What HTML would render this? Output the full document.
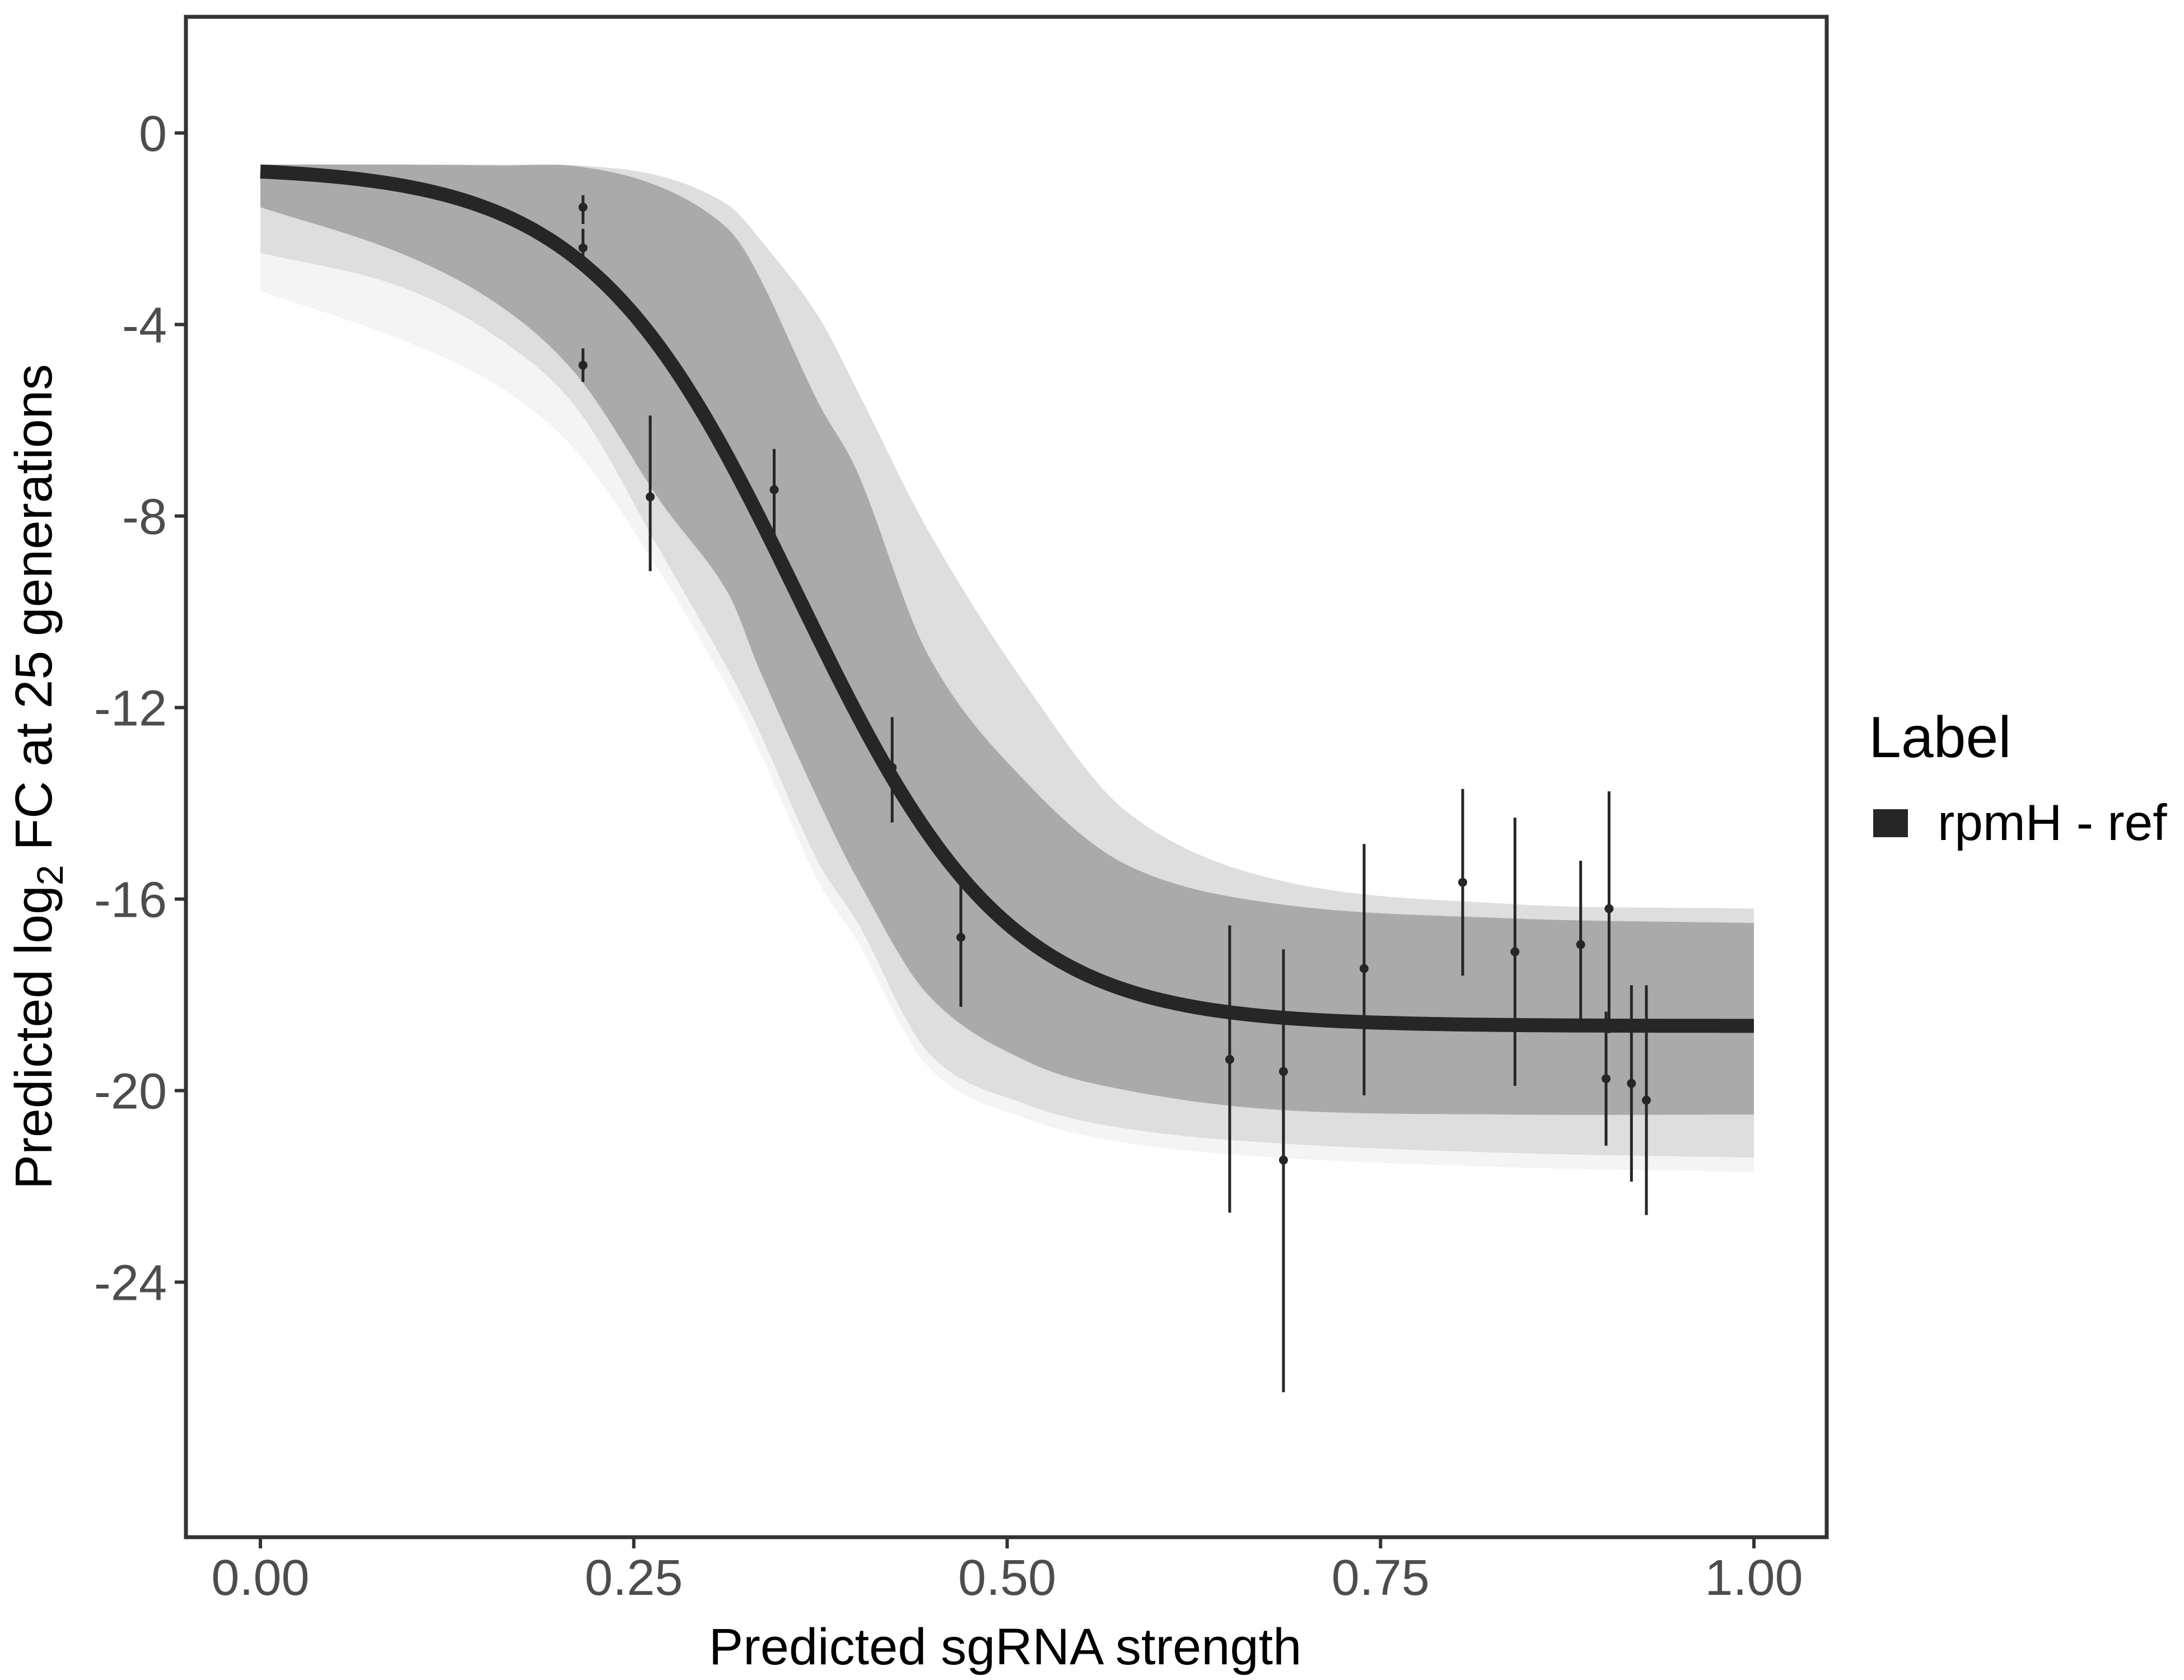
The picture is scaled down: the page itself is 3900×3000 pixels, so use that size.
<!DOCTYPE html>
<html><head><meta charset="utf-8"><style>
html,body{margin:0;padding:0;background:#fff;}
svg{display:block;font-family:"Liberation Sans",sans-serif;}
</style></head><body>
<svg id="chart" width="3900" height="3000" viewBox="0 0 3900 3000" xmlns="http://www.w3.org/2000/svg">
<g id="bands"></g>
<g id="fit"></g>
<g id="pts"></g>
<rect x="332" y="30" width="2930" height="2715" fill="none" stroke="#333" stroke-width="7"/>
<g id="axes"></g>
<text x="1795" y="2972" font-size="92" text-anchor="middle" fill="#000">Predicted sgRNA strength</text>
<text transform="translate(92,1387) rotate(-90)" font-size="93" text-anchor="middle" fill="#000">Predicted  log<tspan font-size="66" dy="20">2</tspan><tspan dy="-20"> FC at 25 generations</tspan></text>
<text x="3337" y="1352" font-size="104" fill="#000">Label</text>
<rect x="3345" y="1445" width="62" height="50" fill="#262626"/>
<text x="3460" y="1500" font-size="91" fill="#000">rpmH - ref</text>
</svg>
<script>
const bandX = [0,0.093,0.16,0.213,0.268,0.313,0.334,0.373,0.40,0.447,0.514,0.581,0.681,0.835,1.0];
const outerUpper = [-0.66,-0.66,-0.66,-0.68,-0.9,-1.5,-2.2,-3.8,-5.4,-8.3,-11.6,-14.2,-15.6,-16.1,-16.2];
const outerLower = [-2.5,-3.2,-4.3,-5.8,-8.75,-11.2,-12.5,-15.2,-16.5,-19.2,-20.3,-20.8,-21.1,-21.3,-21.4];
const outlierLower = [-3.3,-4.3,-5.3,-6.7,-9.2,-11.6,-12.9,-15.6,-16.9,-19.5,-20.6,-21.1,-21.4,-21.6,-21.7];
const coreUpper = [-0.66,-0.66,-0.68,-0.7,-1.13,-2.0,-3.0,-5.6,-7.1,-10.9,-13.6,-15.3,-16.1,-16.4,-16.5];
const coreLower = [-1.55,-2.5,-3.6,-5.1,-7.7,-9.6,-11.2,-13.9,-15.6,-18.0,-19.4,-20.0,-20.4,-20.5,-20.5];
const fitParams = [-0.7,-18.65,0.36,0.07];
const ptX = [0.216,0.216,0.216,0.261,0.344,0.423,0.469,0.649,0.685,0.685,0.739,0.805,0.840,0.884,0.903,0.901,0.918,0.928];
const ptY = [-1.55,-2.4,-4.85,-7.6,-7.45,-13.25,-16.8,-19.35,-19.6,-21.45,-17.45,-15.65,-17.1,-16.95,-16.2,-19.75,-19.85,-20.2];
const ptLo = [-1.9,-2.8,-5.2,-9.15,-8.4,-14.4,-18.25,-22.55,-21.5,-26.3,-20.1,-17.6,-19.9,-18.55,-18.8,-21.15,-21.9,-22.6];
const ptHi = [-1.3,-2.0,-4.5,-5.9,-6.6,-12.2,-15.7,-16.55,-17.05,-19.6,-14.85,-13.7,-14.3,-15.2,-13.75,-18.35,-17.8,-17.8];
const xTicks = [0,0.25,0.5,0.75,1.0];
const xTickLabels = ["0.00","0.25","0.50","0.75","1.00"];
const yTicks = [0,-4,-8,-12,-16,-20,-24];
const yTickLabels = ["0","-4","-8","-12","-16","-20","-24"];

const NS="http://www.w3.org/2000/svg";
const sx = v => 465 + v*2667;
const sy = v => 237.5 - v*85.5;
function mk(tag, parent, attrs){const e=document.createElementNS(NS,tag);for(const k in attrs)e.setAttribute(k,attrs[k]);parent.appendChild(e);return e;}
function slope(xs,ys,i){
  if(i===0) return (ys[1]-ys[0])/(xs[1]-xs[0]);
  if(i===xs.length-1) return (ys[i]-ys[i-1])/(xs[i]-xs[i-1]);
  return (ys[i+1]-ys[i-1])/(xs[i+1]-xs[i-1]);
}
function interp(xs, ys, x){
  let i=0; while(i<xs.length-2 && x>xs[i+1]) i++;
  const h=xs[i+1]-xs[i], t=(x-xs[i])/h;
  const m0=slope(xs,ys,i)*h, m1=slope(xs,ys,i+1)*h;
  const t2=t*t,t3=t2*t;
  return (2*t3-3*t2+1)*ys[i]+(t3-2*t2+t)*m0+(-2*t3+3*t2)*ys[i+1]+(t3-t2)*m1;
}
function bandPath(up, lo){
  let d="";const N=300;
  for(let i=0;i<=N;i++){const x=i/N;d+=(i?"L":"M")+sx(x).toFixed(1)+","+sy(Math.min(-0.66,interp(bandX,up,x))).toFixed(1);}
  for(let i=N;i>=0;i--){const x=i/N;d+="L"+sx(x).toFixed(1)+","+sy(interp(bandX,lo,x)).toFixed(1);}
  return d+"Z";
}
const bands=document.getElementById('bands');
const b0=mk('path',bands,{d:bandPath(outerUpper,outlierLower),fill:'#f4f4f4'});


const b1=mk('path',bands,{d:bandPath(outerUpper,outerLower),fill:'#dedede'});


const b3=mk('path',bands,{d:bandPath(coreUpper,coreLower),fill:'#aaaaaa'});



const fit=document.getElementById('fit');
let d="";
for(let i=0;i<=300;i++){const x=i/300;const y=fitParams[1]+(fitParams[0]-fitParams[1])/(1+Math.exp((x-fitParams[2])/fitParams[3]));d+=(i?"L":"M")+sx(x).toFixed(1)+","+sy(y).toFixed(1);}
const fl=mk('path',fit,{d:d,fill:'none',stroke:'#262626','stroke-width':25});



const pts=document.getElementById('pts');
for(let i=0;i<ptX.length;i++){
  const l=mk('line',pts,{x1:sx(ptX[i]),x2:sx(ptX[i]),y1:sy(ptHi[i]),y2:sy(ptLo[i]),stroke:'#262626','stroke-width':5});
  
  
  const c=mk('circle',pts,{cx:sx(ptX[i]),cy:sy(ptY[i]),r:8,fill:'#262626'});
  
  
}
const axes=document.getElementById('axes');
xTicks.forEach((v,i)=>{
  const t=mk('line',axes,{x1:sx(v),x2:sx(v),y1:2748,y2:2765,stroke:'#333','stroke-width':6});
  
  
  const tx=mk('text',axes,{x:sx(v),y:2848,'font-size':90,'text-anchor':'middle',fill:'#4d4d4d'});
  tx.textContent=xTickLabels[i];
  
  
});
yTicks.forEach((v,i)=>{
  const t=mk('line',axes,{x1:312,x2:329,y1:sy(v),y2:sy(v),stroke:'#333','stroke-width':6});
  
  
  const tx=mk('text',axes,{x:298,y:sy(v)+32,'font-size':90,'text-anchor':'end',fill:'#4d4d4d'});
  tx.textContent=yTickLabels[i];
  
  
});
</script>
</body></html>
